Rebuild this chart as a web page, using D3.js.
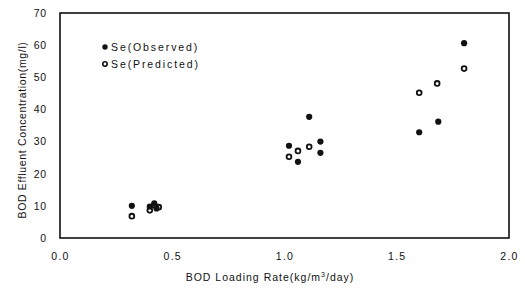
<!DOCTYPE html>
<html><head><meta charset="utf-8">
<script src="https://cdn.jsdelivr.net/npm/d3@7"></script>
<style>body{margin:0;background:#fff}svg{display:block}text{font-family:"Liberation Sans",Arial,sans-serif;fill:#111}</style>
</head><body>
<script>
const xTicks = [0.0, 0.5, 1.0, 1.5, 2.0];
const yTicks = [0, 10, 20, 30, 40, 50, 60, 70];
const obsX = [0.32, 0.40, 0.42, 0.43, 1.02, 1.06, 1.11, 1.16, 1.16, 1.60, 1.685, 1.80];
const obsY = [10.0, 9.8, 10.8, 9.2, 28.7, 23.7, 37.7, 30.0, 26.5, 32.9, 36.2, 60.6];
const predX = [0.32, 0.40, 0.42, 0.44, 1.02, 1.06, 1.11, 1.60, 1.68, 1.80];
const predY = [6.8, 8.6, 10.2, 9.6, 25.3, 27.1, 28.4, 45.2, 48.1, 52.7];
const legendLabels = ["Se(Observed)", "Se(Predicted)"];
const xTitle = "BOD Loading Rate(kg/m";
const yTitle = "BOD Effluent Concentration(mg/l)";

const W = 525, H = 289;
const m = {l: 60, r: 16, t: 13, b: 51};
const svg = d3.select("body").append("svg").attr("width", W).attr("height", H);
const x = d3.scaleLinear().domain([0, 2]).range([m.l, W - m.r]);
const y = d3.scaleLinear().domain([0, 70]).range([H - m.b, m.t]);

// frame
svg.append("rect").attr("x", m.l).attr("y", m.t).attr("width", W - m.r - m.l).attr("height", H - m.b - m.t)
  .attr("fill", "none").attr("stroke", "#111").attr("stroke-width", 1.6);

const xa = svg.append("g").attr("transform", `translate(0,${H - m.b})`)
  .call(d3.axisBottom(x).tickValues(xTicks).tickFormat(d3.format(".1f")).tickSize(0).tickPadding(15));
xa.select(".domain").remove();
xa.selectAll("text").attr("font-size", 10.5).attr("letter-spacing", "1.3px").attr("fill", "#111");

const ya = svg.append("g").attr("transform", `translate(${m.l},0)`)
  .call(d3.axisLeft(y).tickValues(yTicks).tickSize(0).tickPadding(13));
ya.select(".domain").remove();
ya.selectAll("text").attr("font-size", 10.5).attr("letter-spacing", "0.8px").attr("fill", "#111");

// titles
const xt = svg.append("text").attr("x", 270).attr("y", 281).attr("text-anchor", "middle")
  .attr("font-size", 10.5).attr("letter-spacing", "1px");
xt.append("tspan").text(xTitle);
xt.append("tspan").attr("font-size", 7).attr("dy", -4).text("3");
xt.append("tspan").attr("dy", 4).text("/day)");

svg.append("text").attr("transform", `translate(26,${130}) rotate(-90)`).attr("text-anchor", "middle")
  .attr("font-size", 10.5).attr("letter-spacing", "0.65px").text(yTitle);

// points
const obs = obsX.map((v, i) => [v, obsY[i]]);
const pred = predX.map((v, i) => [v, predY[i]]);
svg.append("g").selectAll("circle").data(pred).join("circle")
  .attr("cx", d => x(d[0])).attr("cy", d => y(d[1])).attr("r", 2.4)
  .attr("fill", "#fff").attr("stroke", "#111").attr("stroke-width", 1.8);
svg.append("g").selectAll("circle").data(obs).join("circle")
  .attr("cx", d => x(d[0])).attr("cy", d => y(d[1])).attr("r", 3.1)
  .attr("fill", "#111");

// legend
const lg = svg.append("g");
lg.append("circle").attr("cx", 105).attr("cy", 47).attr("r", 2.7).attr("fill", "#111");
lg.append("circle").attr("cx", 105).attr("cy", 64).attr("r", 2.2).attr("fill", "#fff").attr("stroke", "#111").attr("stroke-width", 1.6);
lg.selectAll("text").data(legendLabels).join("text")
  .attr("x", 111).attr("y", (d, i) => 51 + i * 17)
  .attr("font-size", 10.5).attr("letter-spacing", "1.9px").text(d => d);
</script>
</body></html>
